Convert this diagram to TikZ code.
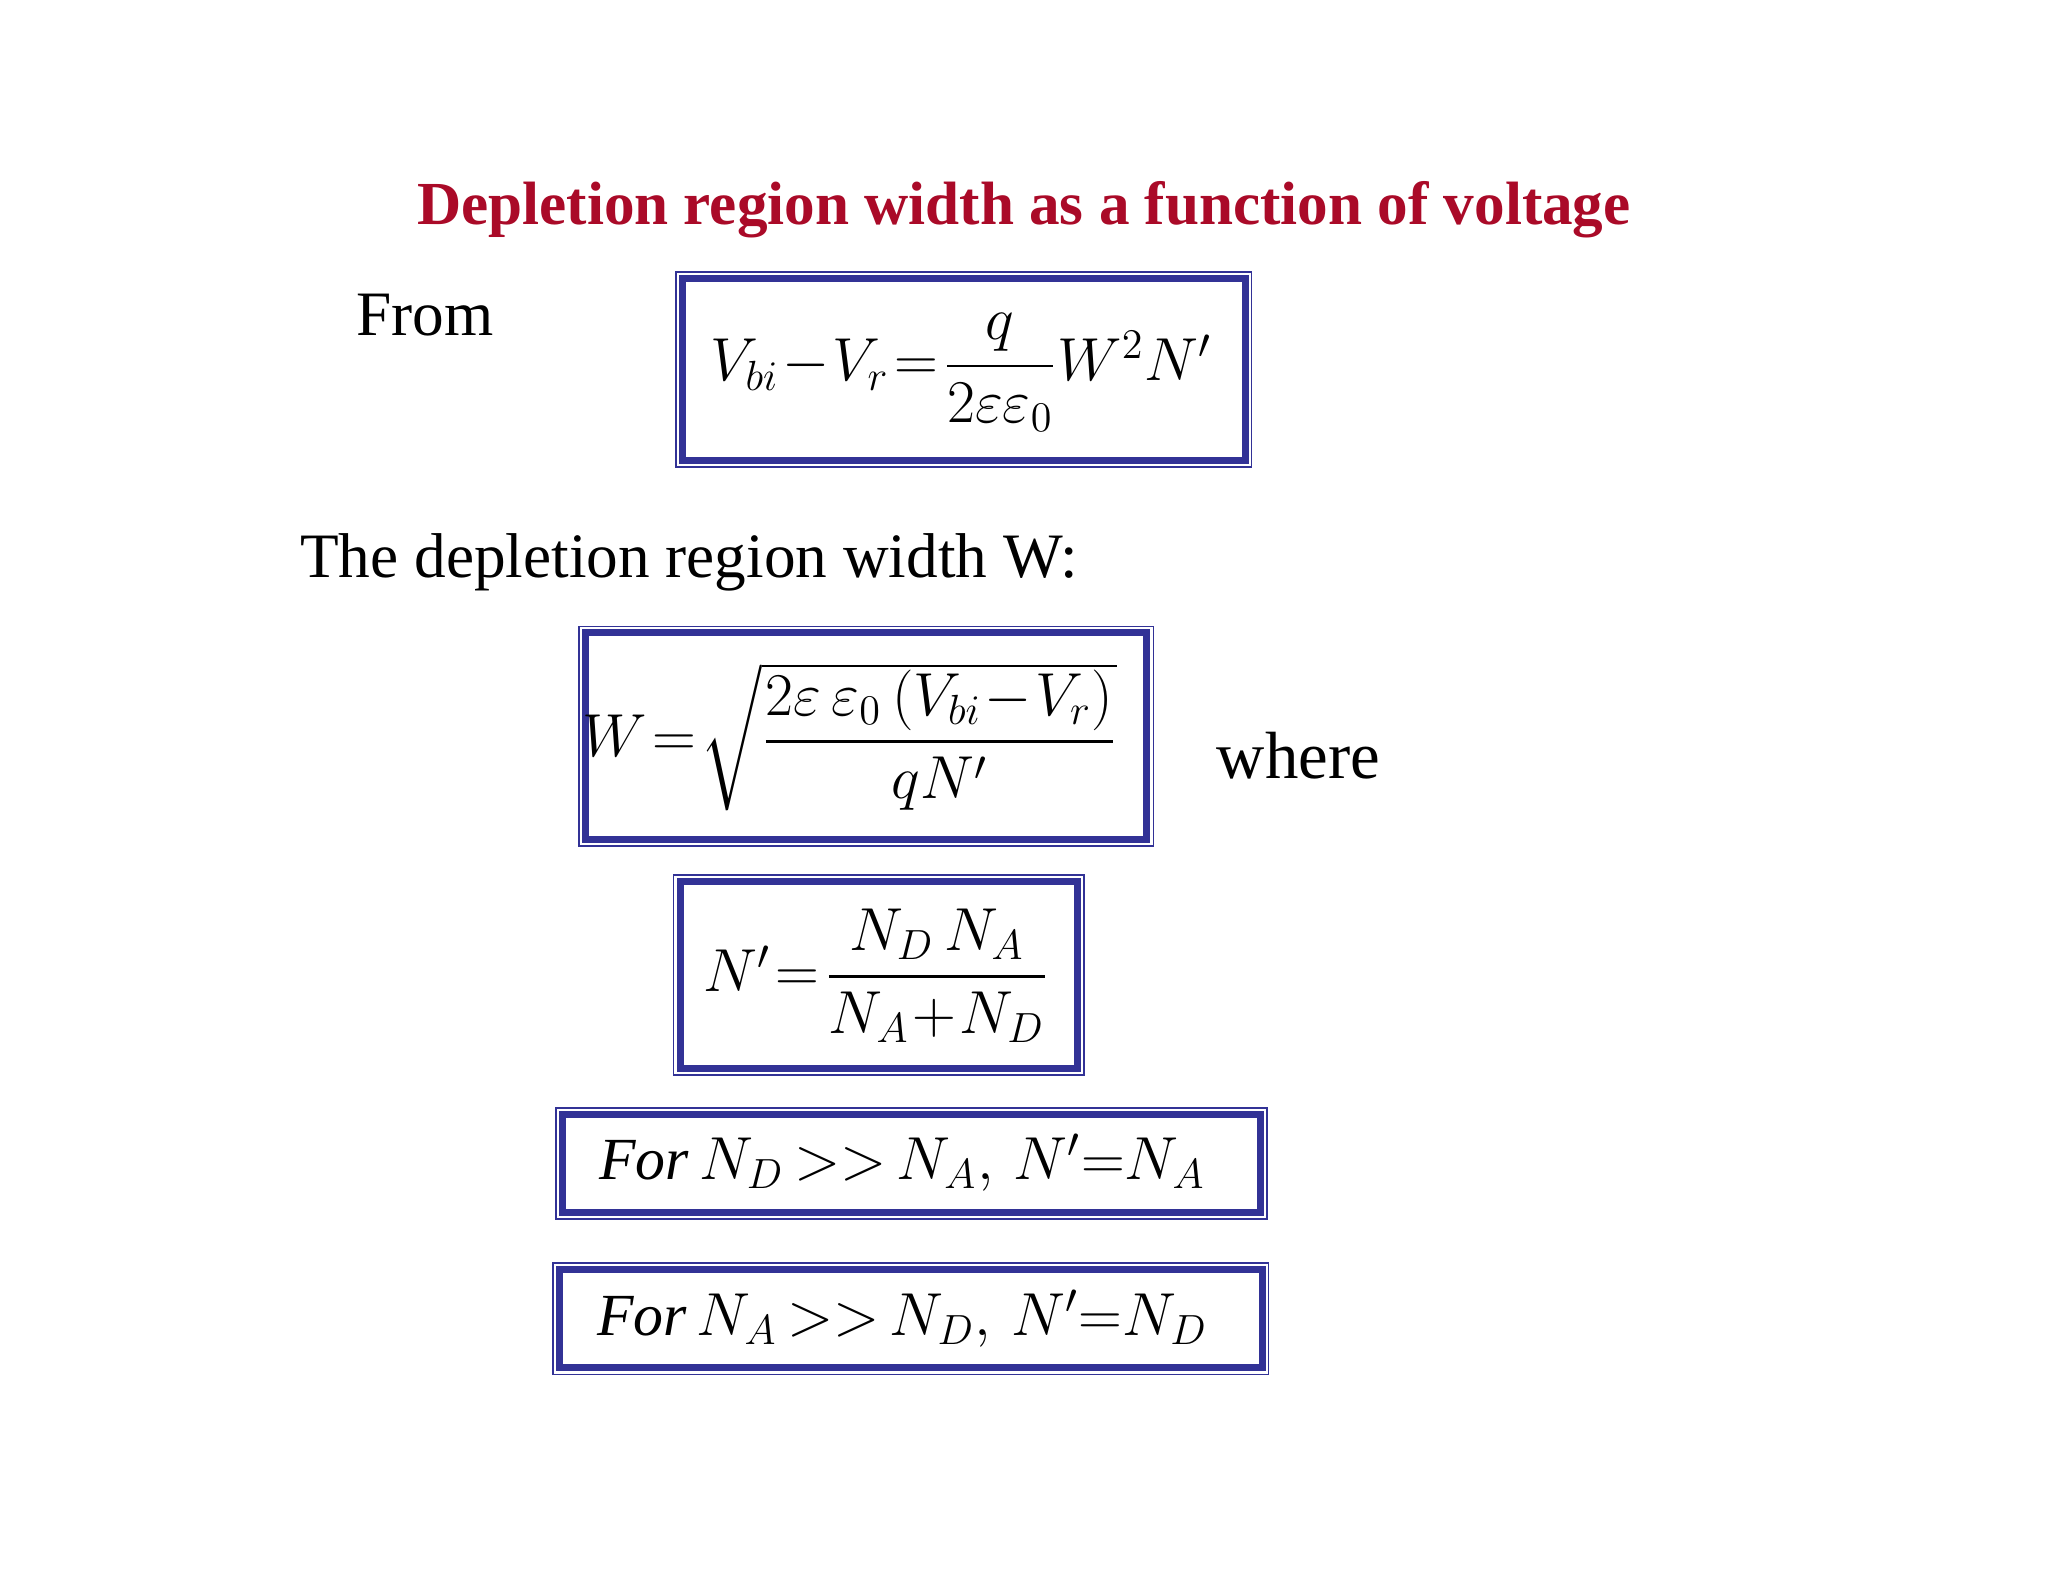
\documentclass[tikz,border=0pt]{standalone}
\usepackage{amsmath}
\usepackage{fontspec}
\setmainfont{Liberation Serif}
\definecolor{ttl}{RGB}{170,10,40}
\definecolor{bx}{RGB}{50,50,150}
\newcommand{\tightmath}{\medmuskip=1mu\relax\thickmuskip=1.5mu\relax}
\tikzset{
 outerb/.style={draw=bx,line width=0.5pt},
 innerb/.style={draw=bx,line width=2pt},
 eq/.style={inner sep=0pt,font=\fontsize{17}{20}\selectfont\tightmath},
 txt/.style={inner sep=0pt,font=\fontsize{18}{22}\selectfont}
}
\newcommand{\dbox}[4]{%
 \draw[outerb] (#1,#2) rectangle (#3,#4);
 \draw[innerb] ({#1+5},{#2+5}) rectangle ({#3-5},{#4-5});}
\begin{document}
\begin{tikzpicture}[x=0.01308cm,y=-0.01308cm]
\useasboundingbox[fill=white] (0,0) rectangle (1566,1210);
\node[inner sep=0pt,text=ttl,font=\fontsize{17.4}{20}\selectfont\bfseries] (title) at (783,160) {Depletion region width as a function of voltage};
\node[txt,anchor=west] (from) at (272,241) {From};
\dbox{517}{208}{957}{357}
\node[eq] (e1) at (735,285) {$V_{bi}-V_r=\dfrac{q}{2\varepsilon\varepsilon_0}W^2N'$};
\node[txt,anchor=west] (dep) at (229,430) {The depletion region width W:};
\dbox{443}{479}{882}{647}
\node[eq] (e2) at (650,563) {$W=\sqrt{\dfrac{2\varepsilon\,\varepsilon_0\left(V_{bi}-V_r\right)}{qN'}}$};
\node[txt,anchor=west,font=\fontsize{19}{22}\selectfont] (where) at (930,578) {where};
\dbox{515}{669}{829}{822}
\node[eq] (e3) at (670,746) {$N'=\dfrac{N_D\,N_A}{N_A+N_D}$};
\dbox{425}{847}{969}{932}
\node[eq] (e4) at (690,889) {$\mathit{For}\,N_D\;\;{>}{>}\;\;N_A,\;\;N'{=}N_A$};
\dbox{423}{966}{970}{1051}
\node[eq] (e5) at (690,1008) {$\mathit{For}\,N_A\;\;{>}{>}\;\;N_D,\;\;N'{=}N_D$};
\end{tikzpicture}
\end{document}
